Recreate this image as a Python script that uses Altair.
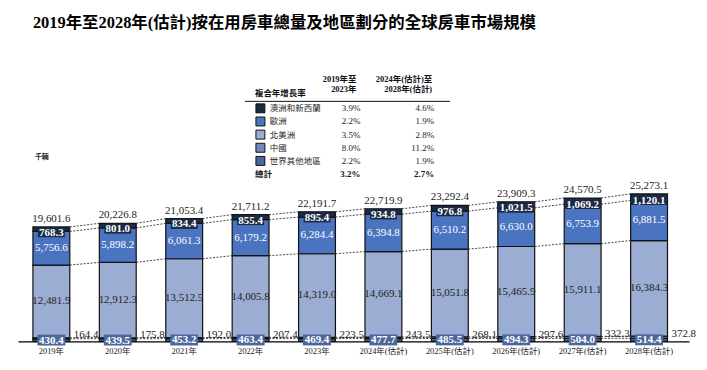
import altair as alt
import pandas as pd

# ---------------- data ----------------
years = ["2019年", "2020年", "2021年", "2022年", "2023年",
         "2024年(估計)", "2025年(估計)", "2026年(估計)", "2027年(估計)", "2028年(估計)"]
world = [430.4, 439.5, 453.2, 463.4, 469.4, 477.7, 485.5, 494.3, 504.0, 514.4]
china = [164.4, 175.8, 192.0, 207.4, 223.5, 243.5, 268.1, 297.6, 332.3, 372.8]
north_america = [12481.9, 12912.3, 13512.5, 14005.8, 14319.0, 14669.1, 15051.8, 15465.9, 15911.1, 16384.3]
europe = [5756.6, 5898.2, 6061.3, 6179.2, 6284.4, 6394.8, 6510.2, 6630.0, 6753.9, 6881.5]
australia = [768.3, 801.0, 834.4, 855.4, 895.4, 934.8, 976.8, 1021.5, 1069.2, 1120.1]
totals = [19601.6, 20226.8, 21053.4, 21711.2, 22191.7, 22719.9, 23292.4, 23909.3, 24570.5, 25273.1]

legend_regions = ["澳洲和新西蘭", "歐洲", "北美洲", "中國", "世界其他地區"]
cagr_2019_2023 = [3.9, 2.2, 3.5, 8.0, 2.2]
cagr_2024_2028 = [4.6, 1.9, 2.8, 11.2, 1.9]
total_label = "總計"
total_cagr_2019_2023 = 3.2
total_cagr_2024_2028 = 2.7

title_text = "2019年至2028年(估計)按在用房車總量及地區劃分的全球房車市場規模"
unit_text = "千輛"
header_text = "複合年增長率"
col1_header = ["2019年至", "2023年"]
col2_header = ["2024年(估計)至", "2028年(估計)"]

palette = ["#1b2a45", "#4a74bf", "#9badd3", "#7489be", "#4a679e"]

# ---------------- tables ----------------
stack_order = ["世界其他地區", "中國", "北美洲", "歐洲", "澳洲和新西蘭"]
stack_series = [world, china, north_america, europe, australia]

rows = []
for i, yr in enumerate(years):
    cum = 0.0
    for reg, ser in zip(stack_order, stack_series):
        v = ser[i]
        rows.append(dict(year=yr, region=reg, value=v, y0=cum, y1=cum + v, mid=cum + v / 2))
        cum += v
seg = pd.DataFrame(rows)
tot = pd.DataFrame(dict(year=years, total=totals))

conn_rows = []
for i in range(len(years) - 1):
    for reg in stack_order:
        a = seg[(seg.year == years[i]) & (seg.region == reg)].iloc[0]
        b = seg[(seg.year == years[i + 1]) & (seg.region == reg)].iloc[0]
        conn_rows.append(dict(frm=years[i], to=years[i + 1], ya=a.y1, yb=b.y1))
conn = pd.DataFrame(conn_rows)

tab = pd.DataFrame(dict(region=legend_regions, c1=cagr_2019_2023, c2=cagr_2024_2028,
                        row=list(range(len(legend_regions)))))
tab_total = pd.DataFrame(dict(region=[total_label], c1=[total_cagr_2019_2023],
                              c2=[total_cagr_2024_2028], row=[len(legend_regions)]))

# ---------------- encodings ----------------
SERIF = "Liberation Serif, Noto Sans CJK TC"
xscale = alt.Scale(domain=years, paddingInner=0.445, paddingOuter=0.275, align=0.41)
xaxis = alt.Axis(title=None, ticks=False, labelAngle=0, labelFont=SERIF, labelFontSize=8.5,
                 labelColor="#222", domainColor="#000", domainWidth=1.3, labelPadding=5)
X = alt.X("year:N", scale=xscale, axis=xaxis)
yscale = alt.Scale(domain=[0, 51200], nice=False, zero=True)
colscale = alt.Scale(domain=legend_regions, range=palette)

base = alt.Chart(seg)

bars = base.mark_bar(stroke="#111", strokeWidth=1.2).encode(
    x=X,
    y=alt.Y("y0:Q", scale=yscale, axis=None),
    y2="y1:Q",
    color=alt.Color("region:N", scale=colscale, legend=None),
)

connectors = alt.Chart(conn).mark_rule(strokeDash=[2, 1.5], color="#444", strokeWidth=1).encode(
    x=alt.X("frm:N", scale=xscale, axis=xaxis, bandPosition=1),
    x2=alt.X2("to:N", bandPosition=0),
    y=alt.Y("ya:Q", scale=yscale, axis=None),
    y2="yb:Q",
)

total_text = alt.Chart(tot).mark_text(font=SERIF, fontSize=11, color="#222", dy=-8).encode(
    x=X, y=alt.Y("total:Q", scale=yscale, axis=None),
    text=alt.Text("total:Q", format=",.1f"),
)

aus = base.transform_filter(alt.datum.region == "澳洲和新西蘭")
aus_box = aus.transform_calculate(bw="datum.value >= 1000 ? 37 : 27").mark_tick(
    thickness=10, color="#1b2a45", opacity=1).encode(
    x=X, y=alt.Y("mid:Q", scale=yscale, axis=None),
    yOffset=alt.value(3),
    size=alt.Size("bw:Q", scale=None),
)
aus_text = aus.mark_text(font=SERIF, fontSize=11, fontWeight="bold", color="white", dy=3.5).encode(
    x=X, y=alt.Y("mid:Q", scale=yscale, axis=None), text=alt.Text("value:Q", format=",.1f"))

eu_text = base.transform_filter(alt.datum.region == "歐洲").mark_text(
    font=SERIF, fontSize=11, color="white").encode(
    x=X, y=alt.Y("mid:Q", scale=yscale, axis=None), text=alt.Text("value:Q", format=",.1f"))

na_text = base.transform_filter(alt.datum.region == "北美洲").mark_text(
    font=SERIF, fontSize=11, color="#222").encode(
    x=X, y=alt.Y("mid:Q", scale=yscale, axis=None), text=alt.Text("value:Q", format=",.1f"))

wd = base.transform_filter(alt.datum.region == "世界其他地區")
wd_box = wd.mark_tick(thickness=11, size=28, color="#4a679e", opacity=1).encode(
    x=X, y=alt.Y("mid:Q", scale=yscale, axis=None))
wd_text = wd.mark_text(font=SERIF, fontSize=11, fontWeight="bold", color="white", dy=0.5).encode(
    x=X, y=alt.Y("mid:Q", scale=yscale, axis=None), text=alt.Text("value:Q", format=",.1f"))

cn_text = base.transform_filter(alt.datum.region == "中國").mark_text(
    font=SERIF, fontSize=11, color="#222", align="left", dx=4, dy=-3).encode(
    x=alt.X("year:N", scale=xscale, axis=xaxis, bandPosition=1),
    y=alt.Y("mid:Q", scale=yscale, axis=None), text=alt.Text("value:Q", format=",.1f"))

main = alt.layer(bars, connectors, aus_box, wd_box, total_text, aus_text, eu_text, na_text,
                 wd_text, cn_text)

# ---------------- legend table ----------------
tscale = alt.Scale(domain=[0, 5], range=[66, 132])
TY = alt.Y("row:Q", scale=tscale, axis=None)

squares = alt.Chart(tab).mark_square(size=81, stroke="#111", strokeWidth=1, opacity=1).encode(
    x=alt.value(243.5), y=TY, color=alt.Color("region:N", scale=colscale, legend=None))
labels = alt.Chart(tab).mark_text(font=SERIF, fontSize=8.5, align="left", color="#222").encode(
    x=alt.value(253), y=TY, text="region:N")
v1 = alt.Chart(tab).transform_calculate(t="format(datum.c1, '.1f') + '%'").mark_text(
    font=SERIF, fontSize=9, align="right", color="#222").encode(x=alt.value(344), y=TY, text="t:N")
v2 = alt.Chart(tab).transform_calculate(t="format(datum.c2, '.1f') + '%'").mark_text(
    font=SERIF, fontSize=9, align="right", color="#222").encode(x=alt.value(418), y=TY, text="t:N")
tl = alt.Chart(tab_total).mark_text(font=SERIF, fontSize=8.5, fontWeight="bold", align="left",
                                    color="#111").encode(x=alt.value(238), y=TY, text="region:N")
tv1 = alt.Chart(tab_total).transform_calculate(t="format(datum.c1, '.1f') + '%'").mark_text(
    font=SERIF, fontSize=9, fontWeight="bold", align="right", color="#111").encode(
    x=alt.value(344), y=TY, text="t:N")
tv2 = alt.Chart(tab_total).transform_calculate(t="format(datum.c2, '.1f') + '%'").mark_text(
    font=SERIF, fontSize=9, fontWeight="bold", align="right", color="#111").encode(
    x=alt.value(418), y=TY, text="t:N")

hdr_df = pd.DataFrame(dict(t=[header_text]))
hdr = alt.Chart(hdr_df).mark_text(font=SERIF, fontSize=8.5, fontWeight="bold", align="left",
                                  color="#111").encode(x=alt.value(238), y=alt.value(51), text="t:N")
c1h = alt.Chart(pd.DataFrame(dict(t=[col1_header]))).mark_text(
    font=SERIF, fontSize=8.5, fontWeight="bold", align="right", baseline="top", lineHeight=10,
    color="#111").encode(x=alt.value(340), y=alt.value(33), text="t")
c2h = alt.Chart(pd.DataFrame(dict(t=[col2_header]))).mark_text(
    font=SERIF, fontSize=8.5, fontWeight="bold", align="right", baseline="top", lineHeight=10,
    color="#111").encode(x=alt.value(416), y=alt.value(33), text="t")
hrule = alt.Chart(hdr_df).mark_rule(color="#111", strokeWidth=1).encode(
    x=alt.value(228), x2=alt.value(434), y=alt.value(59))
unit = alt.Chart(pd.DataFrame(dict(t=[unit_text]))).mark_text(
    font=SERIF, fontSize=7, fontWeight="bold", align="left", color="#222").encode(
    x=alt.value(17), y=alt.value(115), text="t:N")
title = alt.Chart(pd.DataFrame(dict(t=[title_text]))).mark_text(
    font=SERIF, fontSize=16.5, fontWeight="bold", align="left", color="#000").encode(
    x=alt.value(15), y=alt.value(-20), text="t:N")

table = alt.layer(squares, labels, v1, v2, tl, tv1, tv2, hdr, c1h, c2h, hrule, unit, title)

chart = alt.layer(main, table).resolve_scale(y="independent").properties(
    width=674, height=300,
    autosize=alt.AutoSizeParams(type="none"),
    padding={"left": 10, "right": 10, "top": 34, "bottom": 20},
    background="white",
).configure_view(strokeWidth=0)

chart.save("out.html", embed_options={"renderer": "svg", "actions": False})
